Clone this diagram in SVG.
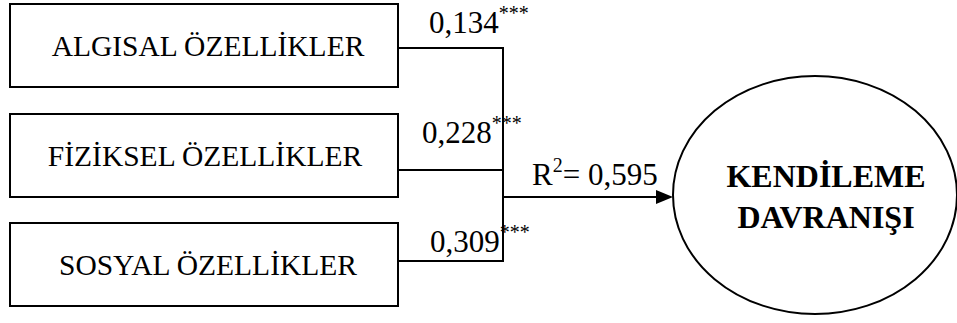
<svg xmlns="http://www.w3.org/2000/svg" width="957" height="323" viewBox="0 0 957 323">
<defs>
<style>
.box{fill:#fff;stroke:#000;stroke-width:2}
.t{font-family:'Liberation Serif','Times New Roman',serif;font-size:29.5px;fill:#000}
.lb{font-family:'Liberation Serif','Times New Roman',serif;font-size:31px;fill:#000}
.sup{font-size:20px}
.b{font-family:'Liberation Serif','Times New Roman',serif;font-size:32px;font-weight:bold;fill:#000}
.ln{fill:none;stroke:#000;stroke-width:2}
</style>
</defs>
<rect width="957" height="323" fill="#fff"/>
<g id="connectors">
<polyline class="ln" points="398,48 503,48 503,261 398,261"/>
<line class="ln" x1="398" y1="170" x2="503" y2="170"/>
<line class="ln" x1="503" y1="197" x2="658" y2="197"/>
<path d="M656,190 L673,197 L656,204 z" fill="#000"/>
<text class="lb" x="429" y="33">0,134<tspan class="sup" dy="-13">***</tspan></text>
<text class="lb" x="422" y="143">0,228<tspan class="sup" dy="-13">***</tspan></text>
<text class="lb" x="430" y="252">0,309<tspan class="sup" dy="-13">***</tspan></text>
<text class="lb" x="532" y="185">R<tspan class="sup" dy="-13">2</tspan><tspan dy="13">= 0,595</tspan></text>
</g>
<g id="n1">
<rect class="box" x="10" y="4" width="388" height="83"/>
<text class="t" x="208" y="56" text-anchor="middle">ALGISAL ÖZELLİKLER</text>
</g>
<g id="n2">
<rect class="box" x="10" y="114" width="388" height="83"/>
<text class="t" x="205" y="166" text-anchor="middle">FİZİKSEL ÖZELLİKLER</text>
</g>
<g id="n3">
<rect class="box" x="10" y="223" width="388" height="83"/>
<text class="t" x="208" y="275" text-anchor="middle">SOSYAL ÖZELLİKLER</text>
</g>
<g id="n4">
<ellipse class="box" cx="815" cy="195" rx="142" ry="119"/>
<text class="b" x="826" y="187" text-anchor="middle">KENDİLEME</text>
<text class="b" x="826" y="228" text-anchor="middle">DAVRANIŞI</text>
</g>
</svg>
